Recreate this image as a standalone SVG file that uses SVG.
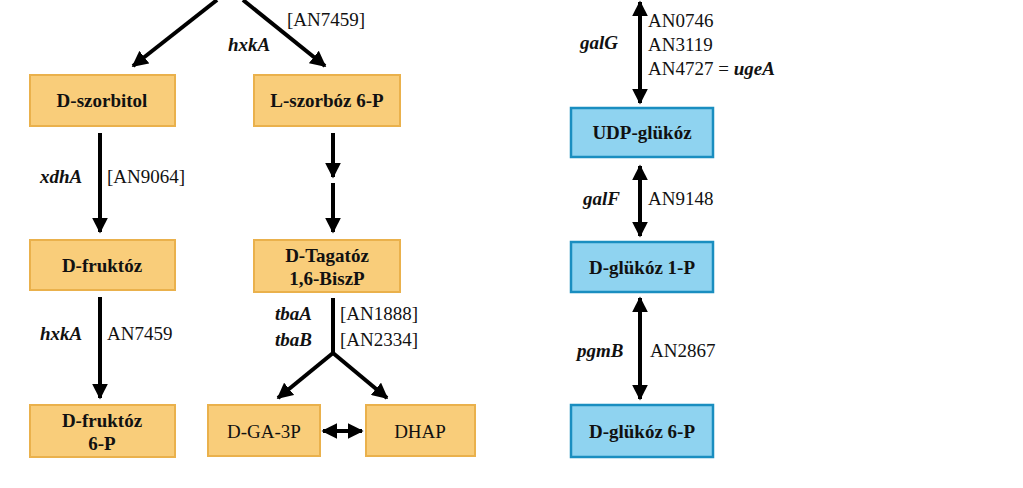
<svg xmlns="http://www.w3.org/2000/svg" width="1023" height="488" viewBox="0 0 1023 488">
<style>
.o{fill:#f9cd7a;stroke:#eab14c;stroke-width:2}
.b{fill:#8fd3f0;stroke:#1a8ec0;stroke-width:2.5}
.t{font-family:"Liberation Serif",serif;font-weight:bold;font-size:19px;fill:#111;text-anchor:middle}
.g{font-family:"Liberation Serif",serif;font-weight:bold;font-style:italic;font-size:19px;fill:#111}
.n{font-family:"Liberation Serif",serif;font-size:19px;fill:#111}
.c line,.c polyline{stroke:#000;stroke-width:4;fill:none}
</style>
<defs>
<marker id="a" viewBox="0 0 10 10" refX="9" refY="5" markerWidth="4" markerHeight="4" orient="auto-start-reverse" markerUnits="strokeWidth"><path d="M0,0L10,5L0,10z" fill="#000"/></marker>
</defs>
<rect width="1023" height="488" fill="#fff"/>
<g class="c">
<line x1="217" y1="0" x2="133" y2="66" marker-end="url(#a)"/>
<line x1="243" y1="0" x2="325" y2="66" marker-end="url(#a)"/>
<line x1="100" y1="133" x2="100" y2="232" marker-end="url(#a)"/>
<line x1="100" y1="297" x2="100" y2="398" marker-end="url(#a)"/>
<line x1="333" y1="133" x2="333" y2="177" marker-end="url(#a)"/>
<line x1="333" y1="183" x2="333" y2="232" marker-end="url(#a)"/>
<line x1="333" y1="298" x2="333" y2="354"/>
<line x1="333" y1="353" x2="278" y2="398" marker-end="url(#a)"/>
<line x1="333" y1="353" x2="387" y2="398" marker-end="url(#a)"/>
<line x1="323" y1="431" x2="362" y2="431" marker-start="url(#a)" marker-end="url(#a)"/>
<line x1="640" y1="2" x2="640" y2="103" marker-start="url(#a)" marker-end="url(#a)"/>
<line x1="640" y1="166" x2="640" y2="236" marker-start="url(#a)" marker-end="url(#a)"/>
<line x1="640" y1="298" x2="640" y2="399" marker-start="url(#a)" marker-end="url(#a)"/>
</g>
<g id="n1"><rect class="o" x="30" y="75" width="145" height="51"/><text class="t" x="102" y="107">D-szorbitol</text></g>
<g id="n2"><rect class="o" x="254" y="75" width="146" height="51"/><text class="t" x="327" y="107">L-szorbóz 6-P</text></g>
<g id="n3"><rect class="o" x="30" y="240" width="145" height="50"/><text class="t" x="102" y="272">D-fruktóz</text></g>
<g id="n4"><rect class="o" x="254" y="240" width="146" height="52"/><text class="t" x="327" y="262">D-Tagatóz</text><text class="t" x="327" y="285">1,6-BiszP</text></g>
<g id="n5"><rect class="o" x="30" y="405" width="145" height="52"/><text class="t" x="102" y="427">D-fruktóz</text><text class="t" x="102" y="450">6-P</text></g>
<g id="n6"><rect class="o" x="208" y="405" width="112" height="51"/><text class="n" x="264" y="438" text-anchor="middle" font-size="17">D-GA-3P</text></g>
<g id="n7"><rect class="o" x="366" y="405" width="109" height="51"/><text class="n" x="420" y="438" text-anchor="middle" font-size="17">DHAP</text></g>
<g id="n8"><rect class="b" x="571" y="108" width="142" height="49"/><text class="t" x="642" y="139">UDP-glükóz</text></g>
<g id="n9"><rect class="b" x="571" y="242" width="142" height="50"/><text class="t" x="642" y="274">D-glükóz 1-P</text></g>
<g id="n10"><rect class="b" x="571" y="405" width="142" height="52"/><text class="t" x="642" y="438">D-glükóz 6-P</text></g>
<g id="labels">
<text class="n" x="287" y="26">[AN7459]</text>
<text class="g" x="228" y="51">hxkA</text>
<text class="g" x="40" y="183">xdhA</text>
<text class="n" x="107" y="183">[AN9064]</text>
<text class="g" x="40" y="340">hxkA</text>
<text class="n" x="107" y="340">AN7459</text>
<text class="g" x="275" y="320">tbaA</text>
<text class="n" x="340" y="320">[AN1888]</text>
<text class="g" x="275" y="346">tbaB</text>
<text class="n" x="340" y="346">[AN2334]</text>
<text class="n" x="648" y="27">AN0746</text>
<text class="g" x="580" y="49">galG</text>
<text class="n" x="648" y="51">AN3119</text>
<text class="n" x="648" y="75">AN4727 = <tspan font-weight="bold" font-style="italic">ugeA</tspan></text>
<text class="g" x="583" y="205">galF</text>
<text class="n" x="648" y="205">AN9148</text>
<text class="g" x="577" y="357">pgmB</text>
<text class="n" x="650" y="357">AN2867</text>
</g>
</svg>
